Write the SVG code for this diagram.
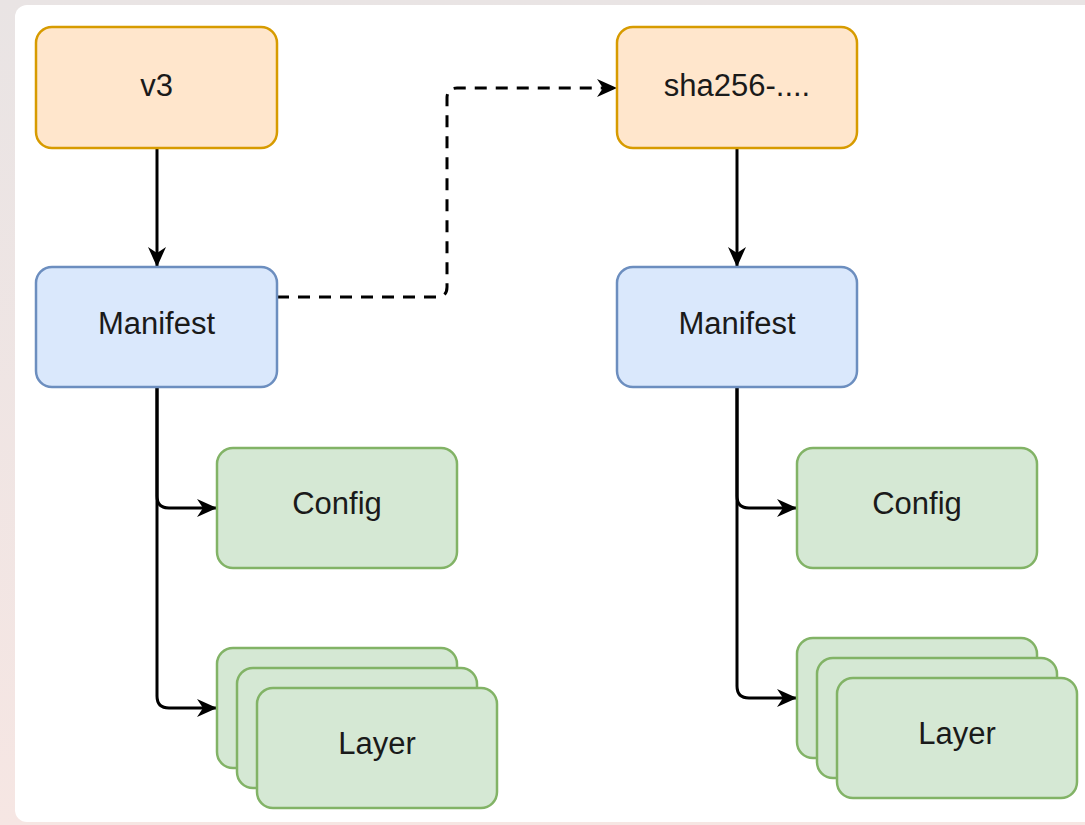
<svg xmlns="http://www.w3.org/2000/svg" width="1085" height="825" viewBox="0 0 1085 825">
<defs>
<style>
.t{font-family:"Liberation Sans",Arial,sans-serif;font-size:31px;fill:#1a1a1a;text-anchor:middle;dominant-baseline:central}
.or{fill:#ffe6cc;stroke:#d79b00;stroke-width:2.5}
.bl{fill:#dae8fc;stroke:#6c8ebf;stroke-width:2.5}
.gr{fill:#d5e8d4;stroke:#82b366;stroke-width:2.5}
.e{fill:none;stroke:#000;stroke-width:3}
.d{fill:none;stroke:#000;stroke-width:3;stroke-dasharray:12 9}
</style>
<marker id="ar" viewBox="0 0 20 20" refX="19" refY="10" markerWidth="20" markerHeight="20" markerUnits="userSpaceOnUse" orient="auto">
<path d="M0,1 L20,10 L0,19 L6,10 Z" fill="#000"/>
</marker>
<linearGradient id="bg" x1="0" y1="0" x2="0" y2="1">
<stop offset="0" stop-color="#e9e4e4"/>
<stop offset="1" stop-color="#f6e6e3"/>
</linearGradient>
</defs>
<rect x="0" y="0" width="1085" height="825" fill="url(#bg)"/>
<rect x="15" y="5" width="1085" height="817" rx="12" fill="#ffffff"/>

<g id="connectors">
<path class="e" d="M157,148 V266" marker-end="url(#ar)"/>
<path class="e" d="M157,387 V496 Q157,508 169,508 H216" marker-end="url(#ar)"/>
<path class="e" d="M157,387 V696 Q157,708 169,708 H216" marker-end="url(#ar)"/>
<path class="e" d="M737,148 V266" marker-end="url(#ar)"/>
<path class="e" d="M737,387 V496 Q737,508 749,508 H796" marker-end="url(#ar)"/>
<path class="e" d="M737,387 V686 Q737,698 749,698 H796" marker-end="url(#ar)"/>
<path class="d" d="M277,297 H437 Q447,297 447,287 V98 Q447,88 457,88 H616" marker-end="url(#ar)"/>
</g>

<g id="v3"><rect class="or" x="36" y="27" width="241" height="121" rx="16"/><text class="t" x="156.5" y="85">v3</text></g>
<g id="manifest-left"><rect class="bl" x="36" y="267" width="241" height="120" rx="16"/><text class="t" x="156.5" y="323">Manifest</text></g>
<g id="config-left"><rect class="gr" x="217" y="448" width="240" height="120" rx="16"/><text class="t" x="337" y="503">Config</text></g>
<g id="layer-left">
<rect class="gr" x="217" y="648" width="240" height="120" rx="16"/>
<rect class="gr" x="237" y="668" width="240" height="120" rx="16"/>
<rect class="gr" x="257" y="688" width="240" height="120" rx="16"/>
<text class="t" x="377" y="743">Layer</text>
</g>

<g id="sha256"><rect class="or" x="617" y="27" width="240" height="121" rx="16"/><text class="t" x="737" y="85">sha256-....</text></g>
<g id="manifest-right"><rect class="bl" x="617" y="267" width="240" height="120" rx="16"/><text class="t" x="737" y="323">Manifest</text></g>
<g id="config-right"><rect class="gr" x="797" y="448" width="240" height="120" rx="16"/><text class="t" x="917" y="503">Config</text></g>
<g id="layer-right">
<rect class="gr" x="797" y="638" width="240" height="120" rx="16"/>
<rect class="gr" x="817" y="658" width="240" height="120" rx="16"/>
<rect class="gr" x="837" y="678" width="240" height="120" rx="16"/>
<text class="t" x="957" y="733">Layer</text>
</g>
</svg>
